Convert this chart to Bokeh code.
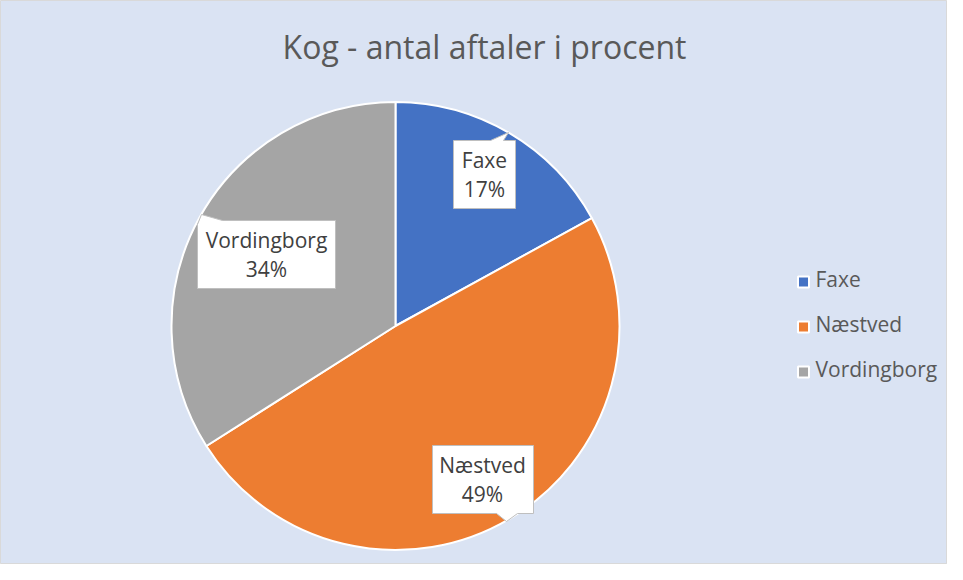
import math
from bokeh.plotting import figure
from bokeh.models import Range1d, ColumnDataSource
from bokeh.core.properties import value
from bokeh.embed import file_html
from bokeh.resources import INLINE

# ---- data ----
categories = ["Faxe", "Næstved", "Vordingborg"]
percents = [17, 49, 34]
colors = ["#4472C4", "#ED7D31", "#A5A5A5"]
title_text = "Kog - antal aftaler i procent"

# ---- layout (pixel coordinates, y downwards) ----
W, H = 947, 564
def fx(X): return X
def fy(Y): return H - Y

FONT = "Open Sans"
TXT = "#595959"
BG = "#DAE3F3"

p = figure(width=W, height=H, output_backend="svg", toolbar_location=None,
           x_range=Range1d(0, W), y_range=Range1d(0, H), min_border=0)
p.axis.visible = False
p.grid.visible = False
p.background_fill_color = BG
p.border_fill_color = BG
p.outline_line_color = "#D9D9D9"
p.outline_line_width = 1

# pie
cx, cy, R = fx(395), fy(325.5), 224
total = sum(percents)
starts, ends = [], []
acc = 0.0
for v in percents:
    starts.append(math.pi / 2 - 2 * math.pi * acc / total)
    acc += v
    ends.append(math.pi / 2 - 2 * math.pi * acc / total)
src = ColumnDataSource(dict(start=starts, end=ends, color=colors, cat=categories))
p.wedge(x=cx, y=cy, radius=R, start_angle="start", end_angle="end",
        direction="clock", fill_color="color", line_color="white",
        line_width=2, source=src)

# title
p.text(x=[fx(484)], y=[fy(46)], text=[title_text], text_align="center",
       text_baseline="alphabetic", text_font=value(FONT), text_font_size="32px",
       text_color=TXT)

# callout label boxes
callouts = [
    dict(box=(453, 140, 515, 208), ptr=[(490, 140), (508, 132), (503, 140)],
         edge="top", tc=(484, 159, 188)),
    dict(box=(432, 445, 533, 513), ptr=[(517, 513), (506, 521), (496, 513)],
         edge="bottom", tc=(482, 464, 493)),
    dict(box=(197, 220, 335, 288), ptr=[(197, 224), (201, 214), (222, 220)],
         edge="topleft", tc=(266, 239, 268)),
]
xs_all, ys_all = [], []
for c in callouts:
    x0, y0, x1, y1 = c["box"]
    if c["edge"] == "top":
        pts = [(x0, y0)] + c["ptr"] + [(x1, y0), (x1, y1), (x0, y1)]
    elif c["edge"] == "bottom":
        pts = [(x0, y0), (x1, y0), (x1, y1)] + c["ptr"] + [(x0, y1)]
    else:
        pts = c["ptr"] + [(x1, y0), (x1, y1), (x0, y1)]
    xs_all.append([fx(a) for a, b in pts])
    ys_all.append([fy(b) for a, b in pts])
p.patches(xs=xs_all, ys=ys_all, fill_color="white", line_color="#BFBFBF",
          line_width=1)

for c, cat, pct in zip(callouts, categories, percents):
    tx, ty1, ty2 = c["tc"]
    p.text(x=[fx(tx), fx(tx)], y=[fy(ty1), fy(ty2)], text=[cat, f"{pct}%"],
           text_align="center", text_baseline="alphabetic",
           text_font=value(FONT), text_font_size="21px", text_color="#404040")

# legend
leg_sq = [281.5, 326.5, 371.5]
leg_base = [278, 323, 368]
p.scatter(x=[fx(803)] * 3, y=[fy(v) for v in leg_sq], marker="square", size=11,
          fill_color=colors, line_color="white", line_width=2)
p.text(x=[fx(815)] * 3, y=[fy(v) for v in leg_base], text=categories,
       text_align="left", text_baseline="alphabetic", text_font=value(FONT),
       text_font_size="21px", text_color=TXT)

open("out.html", "w").write(file_html(p, INLINE))
